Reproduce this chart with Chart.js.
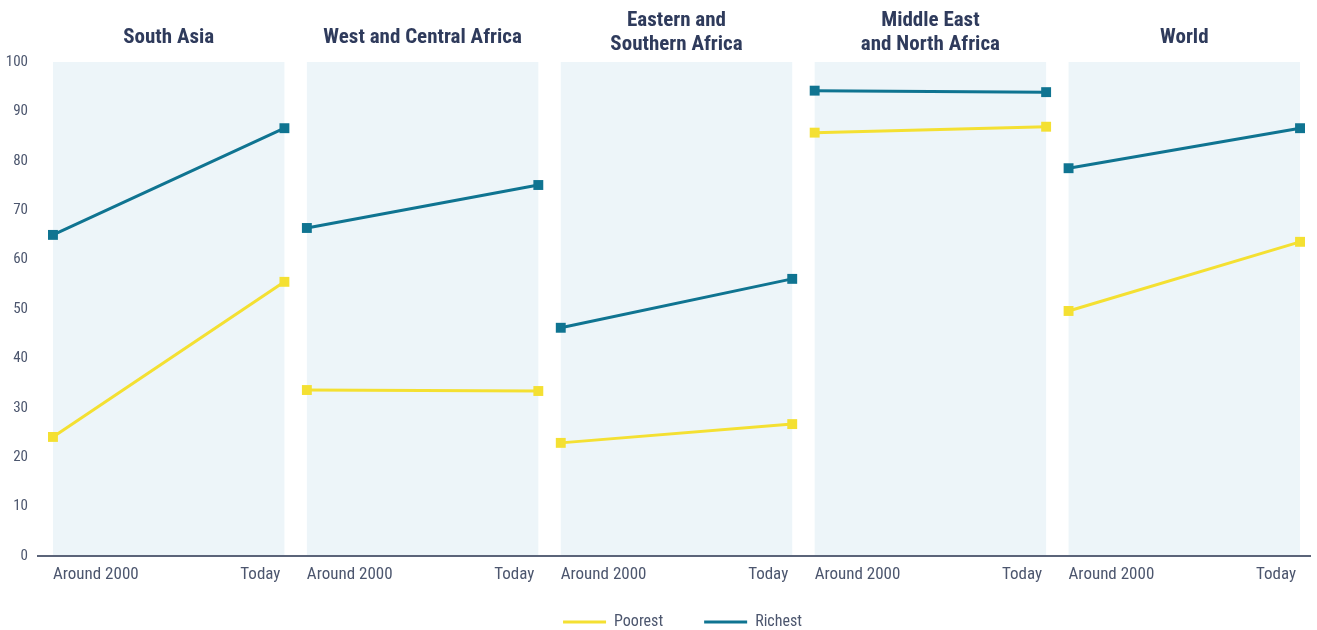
<!doctype html>
<html lang="en">
  <head>
    <meta charset="utf-8">
    <title>Poorest and richest by region</title>
    <style>
      html, body { margin: 0; padding: 0; background: #ffffff; }
      .container { width: 1317px; height: 630px; }
    </style>
  </head>
  <body>
    <div class="container">
      <canvas id="myLineChart"></canvas>
    </div>

    <script src="https://cdn.jsdelivr.net/npm/chart.js/dist/chart.umd.min.js"></script>
    <script>
      // data
      const regions = ['South Asia', 'West and Central Africa', ['Eastern and', 'Southern Africa'], ['Middle East', 'and North Africa'], 'World'];
      const periodLabels = ['Around 2000', 'Today'];
      const poorestAround2000 = [24.1, 33.6, 22.9, 85.7, 49.6];
      const poorestToday = [55.5, 33.4, 26.7, 86.9, 63.6];
      const richestAround2000 = [65.0, 66.4, 46.2, 94.2, 78.5];
      const richestToday = [86.6, 75.1, 56.1, 93.9, 86.6];
      const yTicks = [0, 10, 20, 30, 40, 50, 60, 70, 80, 90, 100];

      const fontFamily = "'Liberation Sans Narrow', 'Roboto Condensed', Roboto, sans-serif";
      const textColor = '#4c566e';
      const titleColor = '#2f3b5c';
      const poorColor = '#f4e032';
      const richColor = '#0f7491';
      const panelColor = '#edf5f9';

      // each panel is one unit wide, with a small gap before the next one
      const step = 254.5 / 232;
      const panelStart = i => i * step;
      const panelEnd = i => i * step + 1;

      function buildSeries(startVals, endVals) {
        const out = [];
        for (let i = 0; i < startVals.length; i++) {
          out.push({x: panelStart(i), y: startVals[i]});
          out.push({x: panelEnd(i), y: endVals[i]});
          if (i < startVals.length - 1) out.push({x: panelEnd(i) + (step - 1) / 2, y: null});
        }
        return out;
      }

      // panel backgrounds, region titles and period labels
      const panelsPlugin = {
        id: 'panels',
        afterLayout(chart) {
          // legend sits a bit right of centre in the original
          if (chart.legend) {
            chart.legend.left += 26;
            chart.legend.right += 26;
          }
        },
        beforeDatasetsDraw(chart) {
          const {ctx, chartArea, scales: {x}} = chart;
          ctx.save();
          ctx.fillStyle = panelColor;
          regions.forEach((r, i) => {
            const left = x.getPixelForValue(panelStart(i));
            const right = x.getPixelForValue(panelEnd(i));
            // stop just above the axis line so it stays visible
            ctx.fillRect(left, chartArea.top, right - left, chartArea.bottom - chartArea.top - 1);
          });
          ctx.restore();
        },
        afterDraw(chart) {
          const {ctx, chartArea, scales: {x}} = chart;
          ctx.save();
          ctx.textBaseline = 'middle';
          regions.forEach((r, i) => {
            const left = x.getPixelForValue(panelStart(i));
            const right = x.getPixelForValue(panelEnd(i));
            // titles
            ctx.font = 'bold 21px ' + fontFamily;
            ctx.fillStyle = titleColor;
            ctx.textAlign = 'center';
            const lines = Array.isArray(r) ? r : [r];
            if (lines.length === 1) {
              ctx.fillText(lines[0], (left + right) / 2, 38);
            } else {
              ctx.fillText(lines[0], (left + right) / 2, 21);
              ctx.fillText(lines[1], (left + right) / 2, 45);
            }
            // period labels under the axis
            ctx.font = '17px ' + fontFamily;
            ctx.fillStyle = textColor;
            ctx.textAlign = 'left';
            ctx.fillText(periodLabels[0], left, chartArea.bottom + 19);
            ctx.textAlign = 'right';
            ctx.fillText(periodLabels[1], right - 4, chartArea.bottom + 19);
          });
          ctx.restore();
        }
      };

      const lineConfig = {
        type: 'line',
        data: {
          datasets: [{
            label: 'Poorest',
            data: buildSeries(poorestAround2000, poorestToday),
            borderColor: poorColor,
            backgroundColor: poorColor,
            borderWidth: 3,
            pointStyle: 'rect',
            pointRadius: 7,
            pointBorderWidth: 0,
            spanGaps: false
          }, {
            label: 'Richest',
            data: buildSeries(richestAround2000, richestToday),
            borderColor: richColor,
            backgroundColor: richColor,
            borderWidth: 3,
            pointStyle: 'rect',
            pointRadius: 7,
            pointBorderWidth: 0,
            spanGaps: false
          }]
        },
        options: {
          responsive: false,
          animation: false,
          clip: false,
          layout: {
            padding: {top: 62, right: 4, bottom: -10, left: 0}
          },
          scales: {
            x: {
              type: 'linear',
              min: -15 / 232,
              max: panelEnd(4) + 10 / 232,
              grid: {display: false, drawTicks: false},
              border: {display: true, color: '#5b6479', width: 2},
              ticks: {display: false},
              afterFit(scale) { scale.height = 17; }
            },
            y: {
              min: 0,
              max: 100,
              afterBuildTicks(scale) { scale.ticks = yTicks.map(v => ({value: v})); },
              grid: {display: false, drawTicks: false},
              border: {display: false},
              ticks: {
                padding: 10,
                color: textColor,
                font: {family: fontFamily, size: 15}
              },
              afterFit(scale) { scale.width = 38; }
            }
          },
          plugins: {
            legend: {
              position: 'bottom',
              labels: {
                boxWidth: 43,
                boxHeight: 3,
                padding: 41,
                color: textColor,
                font: {family: fontFamily, size: 16},
                generateLabels(chart) {
                  return Chart.defaults.plugins.legend.labels.generateLabels(chart).map(item => {
                    item.lineWidth = 0;
                    item.fillStyle = item.strokeStyle;
                    return item;
                  });
                }
              }
            },
            tooltip: {enabled: false}
          }
        },
        plugins: [panelsPlugin]
      };

      const canvas = document.getElementById('myLineChart');
      canvas.width = 1317;
      canvas.height = 630;
      const myLineChart = new Chart(canvas, lineConfig);
    </script>
  </body>
</html>
